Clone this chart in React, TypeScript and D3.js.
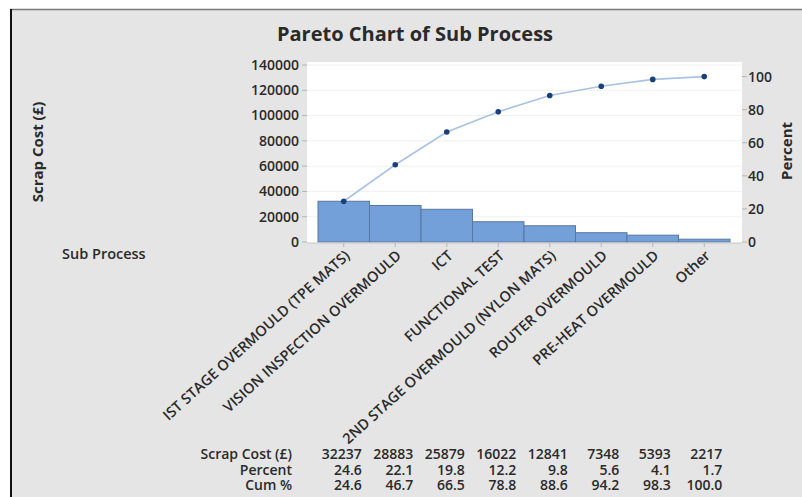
import React from "react";
import * as d3 from "d3";

// chart data
const categories = [
  "IST STAGE OVERMOULD (TPE MATS)",
  "VISION INSPECTION OVERMOULD",
  "ICT",
  "FUNCTIONAL TEST",
  "2ND STAGE OVERMOULD (NYLON MATS)",
  "ROUTER OVERMOULD",
  "PRE-HEAT OVERMOULD",
  "Other",
];
const scrapCost = [32237, 28883, 25879, 16022, 12841, 7348, 5393, 2217];
const percentLabels = ["24.6", "22.1", "19.8", "12.2", "9.8", "5.6", "4.1", "1.7"];
const cumLabels = ["24.6", "46.7", "66.5", "78.8", "88.6", "94.2", "98.3", "100.0"];
const costTicks = [0, 20000, 40000, 60000, 80000, 100000, 120000, 140000];
const pctTicks = [0, 20, 40, 60, 80, 100];

const W = 802;
const H = 497;
const FONT = "'Open Sans', 'Noto Sans', sans-serif";
const TXT = "#2a2a2a";

const App = () => {
  const plot = { left: 307, right: 742, top: 62, bottom: 243 };
  const total = d3.sum(scrapCost);

  const x = d3.scaleBand().domain(categories).range([318, 730]).padding(0);
  const y = d3.scaleLinear().domain([0, 140000]).range([242, 65]);
  // percent axis lines up with the cost axis (100% = total cost)
  const yPct = d3.scaleLinear().domain([0, (140000 / total) * 100]).range([242, 65]);

  let run = 0;
  const cum = scrapCost.map((v) => {
    run += v;
    return (run / total) * 100;
  });

  const cx = (c: string) => (x(c) as number) + x.bandwidth() / 2;
  const line = d3
    .line<number>()
    .x((_, i) => cx(categories[i]))
    .y((d) => yPct(d));

  const rowY = [459, 474.5, 490];
  const rowNames = ["Scrap Cost (£)", "Percent", "Cum %"];
  const rows = [scrapCost.map(String), percentLabels, cumLabels];

  return (
    <svg
      width={W}
      height={H}
      style={{ position: "absolute", left: 0, top: 0, fontFamily: FONT }}
    >
      <rect x={0} y={0} width={W} height={H} fill="#ffffff" />
      <rect x={10} y={9} width={W - 10} height={H - 9} fill="#e5e5e5" />
      <line x1={10} x2={W} y1={9.5} y2={9.5} stroke="#7a7a7a" strokeWidth={1.5} />
      <line x1={11} x2={11} y1={9} y2={H} stroke="#111" strokeWidth={2} />

      <text x={415} y={41} textAnchor="middle" fontSize={20} fontWeight={700} fill={TXT}>
        Pareto Chart of Sub Process
      </text>

      {/* plot area */}
      <rect
        x={plot.left}
        y={plot.top}
        width={plot.right - plot.left}
        height={plot.bottom - plot.top}
        fill="#ffffff"
      />
      {costTicks.map((t) => (
        <g key={"g" + t}>
          {t > 0 && (
            <line x1={plot.left} x2={plot.right} y1={y(t)} y2={y(t)} stroke="#f1f1f1" />
          )}
          <line x1={plot.left - 5} x2={plot.left} y1={y(t)} y2={y(t)} stroke="#b5b5b5" />
          <text
            x={plot.left - 8}
            y={y(t)}
            dy="0.35em"
            textAnchor="end"
            fontSize={14}
            fontWeight={600}
            fill={TXT}
          >
            {t}
          </text>
        </g>
      ))}
      {pctTicks.map((t) => (
        <g key={"p" + t}>
          <line x1={plot.right} x2={plot.right + 5} y1={yPct(t)} y2={yPct(t)} stroke="#b5b5b5" />
          <text
            x={plot.right + 6}
            y={yPct(t)}
            dy="0.35em"
            fontSize={14}
            fontWeight={600}
            fill={TXT}
          >
            {t}
          </text>
        </g>
      ))}

      {/* bars */}
      {categories.map((c, i) => (
        <rect
          key={c}
          x={x(c)}
          y={y(scrapCost[i])}
          width={x.bandwidth()}
          height={y(0) - y(scrapCost[i])}
          fill="#74a0d9"
          stroke="#56779f"
          strokeWidth={1}
        />
      ))}
      <line x1={plot.left} x2={plot.right} y1={plot.bottom} y2={plot.bottom} stroke="#c8c8c8" />

      {/* cumulative line */}
      <path d={line(cum) || ""} fill="none" stroke="#a9c3e4" strokeWidth={1.6} />
      {cum.map((d, i) => (
        <circle key={"c" + i} cx={cx(categories[i])} cy={yPct(d)} r={2.8} fill="#1b3f7c" />
      ))}

      {/* x ticks and rotated labels */}
      {categories.map((c) => (
        <g key={"t" + c}>
          <line x1={cx(c)} x2={cx(c)} y1={plot.bottom} y2={plot.bottom + 4} stroke="#b5b5b5" />
          <text
            transform={`translate(${cx(c) + 7},${plot.bottom + 14}) rotate(-42)`}
            textAnchor="end"
            fontSize={14.5}
            fontWeight={600}
            fill={TXT}
          >
            {c}
          </text>
        </g>
      ))}

      {/* axis titles */}
      <text
        transform="translate(43,152) rotate(-90)"
        textAnchor="middle"
        fontSize={15}
        fontWeight={700}
        fill={TXT}
      >
        Scrap Cost (£)
      </text>
      <text
        transform="translate(792,151) rotate(-90)"
        textAnchor="middle"
        fontSize={15}
        fontWeight={700}
        fill={TXT}
      >
        Percent
      </text>
      <text x={62} y={259} fontSize={14.5} fontWeight={600} fill={TXT}>
        Sub Process
      </text>

      {/* table */}
      {rowNames.map((name, r) => (
        <g key={name}>
          <text x={292} y={rowY[r]} textAnchor="end" fontSize={14} fontWeight={600} fill={TXT}>
            {name}
          </text>
          {rows[r].map((v, i) => (
            <text
              key={i}
              x={cx(categories[i]) + 18}
              y={rowY[r]}
              textAnchor="end"
              fontSize={14}
              fontWeight={600}
              fill={TXT}
            >
              {v}
            </text>
          ))}
        </g>
      ))}
    </svg>
  );
};

export default App;
